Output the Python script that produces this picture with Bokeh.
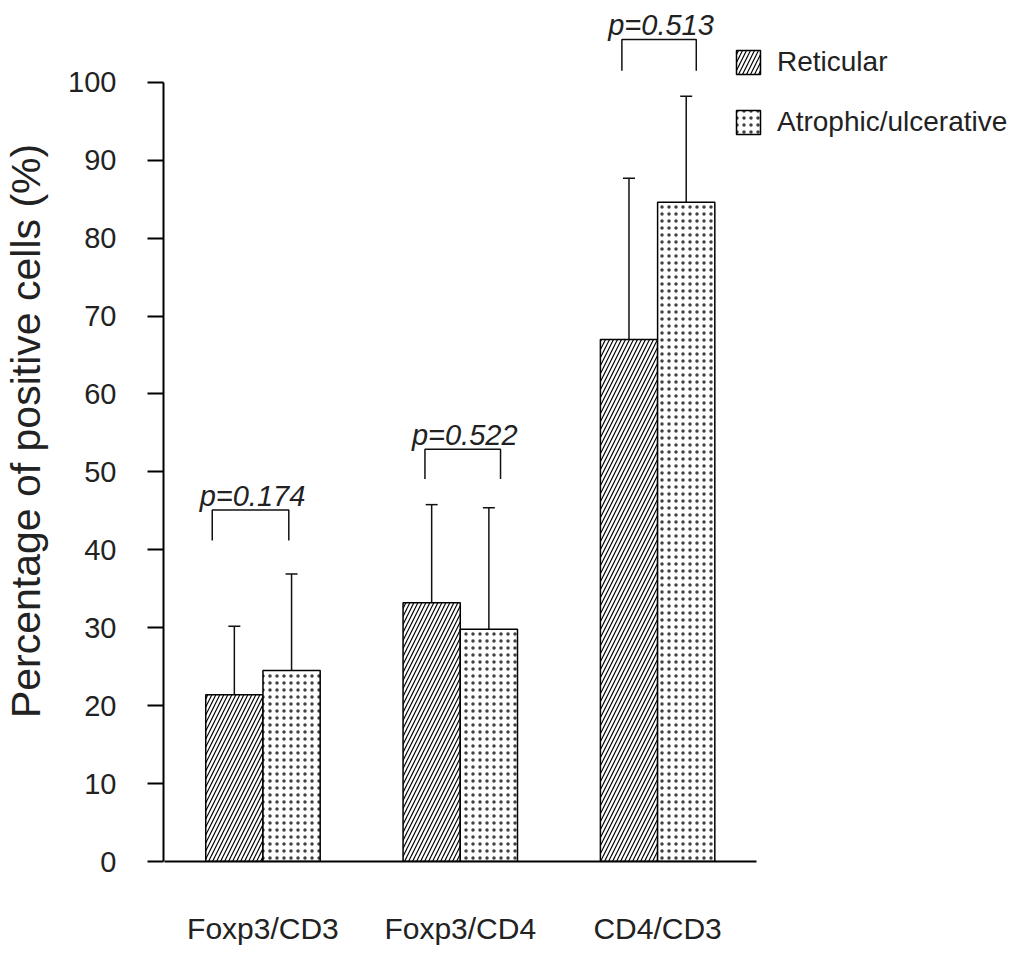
from bokeh.plotting import figure
from bokeh.models import (Range1d, FixedTicker, Whisker, TeeHead, ColumnDataSource,
                          Legend, LegendItem)
from bokeh.core.properties import value
from bokeh.embed import file_html
from bokeh.resources import INLINE

# ---- data ----
categories = ["Foxp3/CD3", "Foxp3/CD4", "CD4/CD3"]
reticular = [21.4, 33.2, 67.0]
reticular_sd = [8.8, 12.6, 20.7]
atrophic = [24.5, 29.8, 84.6]
atrophic_sd = [12.4, 15.6, 13.6]
p_labels = ["p=0.174", "p=0.522", "p=0.513"]
bracket_low = [41.2, 49.1, 101.5]
bracket_high = [45.1, 52.9, 105.5]
bracket_left = [-0.257, -0.179, -0.181]
bracket_right = [0.131, 0.204, 0.196]
y_ticks = [0, 10, 20, 30, 40, 50, 60, 70, 80, 90, 100]

FONT = "Liberation Sans"
TXT = "#222222"
BAR_W = 0.29

centers = [i + 1 for i in range(len(categories))]
x_ret = [c - BAR_W / 2 for c in centers]
x_atr = [c + BAR_W / 2 for c in centers]

p = figure(width=1019, height=947,
           x_range=Range1d(0.496, 4.834), y_range=Range1d(0, 110.5),
           output_backend="svg", toolbar_location=None,
           min_border_left=158, min_border_right=0,
           min_border_top=0, min_border_bottom=85)
p.outline_line_color = None
p.xgrid.visible = False
p.ygrid.visible = False
p.background_fill_color = "white"

src_ret = ColumnDataSource(dict(x=x_ret, top=reticular,
                                upper=[v + s for v, s in zip(reticular, reticular_sd)]))
src_atr = ColumnDataSource(dict(x=x_atr, top=atrophic,
                                upper=[v + s for v, s in zip(atrophic, atrophic_sd)]))

r_ret = p.vbar(x="x", top="top", width=BAR_W, bottom=0, source=src_ret,
               fill_color="white", line_color="black", line_width=1.5,
               hatch_pattern="/", hatch_scale=8, hatch_color="black", hatch_weight=1.2)
r_atr = p.vbar(x="x", top="top", width=BAR_W, bottom=0, source=src_atr,
               fill_color="white", line_color="black", line_width=1.5,
               hatch_pattern=".", hatch_scale=7, hatch_color="black",
               hatch_alpha=0.75, hatch_weight=1)

for src in (src_ret, src_atr):
    w = Whisker(base="x", lower="top", upper="upper", dimension="height", source=src,
                line_color="#111111", line_width=1.5, lower_head=None,
                upper_head=TeeHead(size=12, line_color="#111111", line_width=1.5))
    p.add_layout(w)

# significance brackets
bxs, bys = [], []
for c, l, r, lo, hi in zip(centers, bracket_left, bracket_right, bracket_low, bracket_high):
    bxs.append([c + l, c + l, c + r, c + r])
    bys.append([lo, hi, hi, lo])
p.multi_line(xs=bxs, ys=bys, line_color="#111111", line_width=1.5)

p.text(x=[c + (l + r) / 2 + 0.01 for c, l, r in zip(centers, bracket_left, bracket_right)],
       y=[h + 1.8 for h in bracket_high], text=p_labels,
       text_font=value(FONT), text_font_size="29px", text_font_style="italic",
       text_align="center", text_baseline="alphabetic", text_color=TXT)

legend = Legend(items=[LegendItem(label="Reticular", renderers=[r_ret]),
                       LegendItem(label="Atrophic/ulcerative", renderers=[r_atr])],
                location=(570, 723), border_line_color=None, background_fill_alpha=0,
                padding=0, margin=0, glyph_width=30, glyph_height=30, label_height=30,
                label_standoff=14, spacing=28, label_text_font=FONT,
                label_text_font_size="28px", label_text_color=TXT)
p.add_layout(legend)

# x axis
xa = p.xaxis[0]
xa.ticker = FixedTicker(ticks=centers)
xa.major_label_overrides = {c: name for c, name in zip(centers, categories)}
xa.bounds = (0.5, 3.5)
xa.major_tick_line_color = None
xa.major_tick_out = 0
xa.major_tick_in = 0
xa.minor_tick_line_color = None
xa.axis_line_width = 2
xa.axis_line_color = "black"
xa.major_label_standoff = 50
xa.major_label_text_font = FONT
xa.major_label_text_font_size = "30px"
xa.major_label_text_color = TXT

# y axis
ya = p.yaxis[0]
ya.ticker = FixedTicker(ticks=y_ticks)
ya.bounds = (0, 100)
ya.major_tick_out = 16
ya.major_tick_in = 0
ya.major_tick_line_width = 2
ya.major_tick_line_color = "black"
ya.minor_tick_line_color = None
ya.axis_line_width = 2
ya.axis_line_color = "black"
ya.major_label_standoff = 31
ya.major_label_text_font = FONT
ya.major_label_text_font_size = "29px"
ya.major_label_text_color = TXT
ya.axis_label = "Percentage of positive cells (%)"
ya.axis_label_text_font = FONT
ya.axis_label_text_font_size = "41px"
ya.axis_label_text_font_style = "normal"
ya.axis_label_text_color = TXT
ya.axis_label_standoff = 16

open("out.html", "w").write(file_html(p, INLINE))
